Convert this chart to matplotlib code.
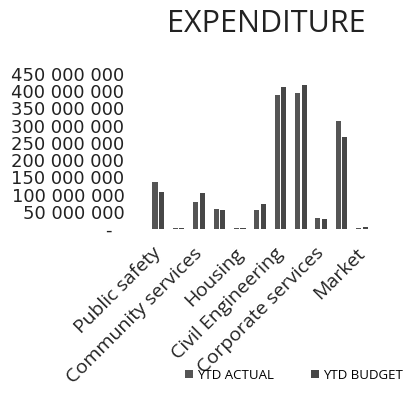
import numpy as np
import matplotlib
matplotlib.use("Agg")
import matplotlib.pyplot as plt
import matplotlib.transforms as mtransforms
from matplotlib.ticker import FuncFormatter

plt.rcParams['font.family'] = ['Open Sans', 'DejaVu Sans']

# departments; only every other name fits on the axis
categories = ["Public safety", "", "Community services", "", "Housing", "",
              "Civil Engineering", "", "Corporate services", "", "Market"]

ytd_actual = [135e6, 2e6, 77e6, 59e6, 2e6, 54e6, 390e6, 395e6, 33e6, 315e6, 3e6]
ytd_budget = [106e6, 2e6, 103e6, 55e6, 3e6, 73e6, 413e6, 419e6, 28e6, 268e6, 5e6]

yticks = np.arange(0, 450e6 + 1, 50e6)


def money(v, pos):
    if v == 0:
        return "-  "
    return "{:,.0f}".format(v).replace(",", " ")


fig = plt.figure(figsize=(4.08, 3.94), dpi=100)
ax = fig.add_axes([0.363, 0.419, 0.549, 0.393])

x = np.arange(len(categories))
w = 0.25
ax.bar(x - 0.16, ytd_actual, w, color='#555555', label='YTD ACTUAL')
ax.bar(x + 0.16, ytd_budget, w, color='#474747', label='YTD BUDGET')

ax.set_xlim(-0.5, len(categories) - 0.5)
ax.set_ylim(0, 450e6)
ax.set_yticks(yticks)
ax.yaxis.set_major_formatter(FuncFormatter(money))
ax.tick_params(axis='y', length=0, pad=17, colors='#222222')
for t in ax.get_yticklabels():
    t.set_family('DejaVu Sans')
    t.set_fontsize(13)

ax.set_xticks(x)
ax.set_xticklabels(categories, rotation=45, ha='right', rotation_mode='anchor')
ax.tick_params(axis='x', length=0, labelsize=14, pad=11, colors='#222222')
shift = mtransforms.ScaledTranslation(-6 / 100, 0, fig.dpi_scale_trans)
for t in ax.get_xticklabels():
    t.set_transform(t.get_transform() + shift)

for s in ax.spines.values():
    s.set_visible(False)

fig.text(0.652, 0.94, "EXPENDITURE", ha='center', va='center', fontsize=22,
         color='#222222')

fig.legend(loc='center', bbox_to_anchor=(0.72, 0.048), ncol=2, frameon=False,
           fontsize=9.5, handlelength=0.6, handleheight=0.6, columnspacing=2.8,
           handletextpad=0.3)

fig.savefig("out.png", dpi=100)
